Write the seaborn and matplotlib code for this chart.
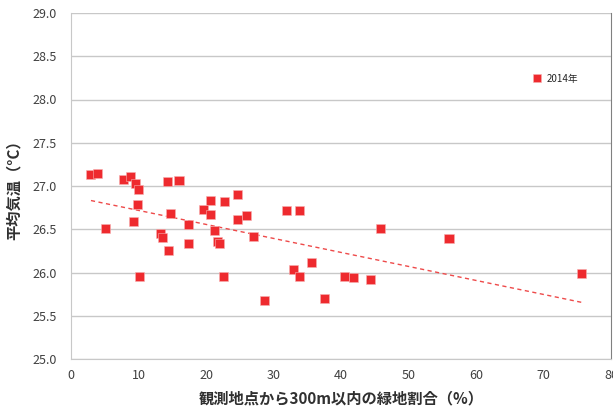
import matplotlib
matplotlib.use("Agg")
import matplotlib.pyplot as plt
import seaborn as sns
import pandas as pd

# Data: green space ratio within 300 m (%) vs mean temperature (deg C), 2014
green_ratio = [2.96, 3.9, 5.1, 7.8, 8.8, 9.5, 10.0, 9.9, 9.3, 10.1,
               14.3, 16.0, 14.8, 13.2, 13.5, 14.5, 17.4, 17.4, 19.7, 20.7,
               20.7, 21.2, 21.7, 22.0, 22.7, 22.6, 24.7, 24.7, 26.0, 27.0,
               28.7, 31.9, 32.9, 33.8, 33.8, 35.7, 37.5, 40.5, 41.9, 44.3,
               45.8, 56.0, 75.7]
mean_temp = [27.13, 27.14, 26.51, 27.08, 27.11, 27.03, 26.96, 26.79, 26.59, 25.95,
             27.05, 27.06, 26.68, 26.45, 26.41, 26.25, 26.55, 26.33, 26.73, 26.83,
             26.67, 26.49, 26.36, 26.34, 26.82, 25.95, 26.90, 26.61, 26.66, 26.42,
             25.68, 26.72, 26.03, 26.72, 25.95, 26.12, 25.70, 25.95, 25.94, 25.92,
             26.51, 26.39, 25.99]
series_label = "2014年"

x_ticks = [0, 10, 20, 30, 40, 50, 60, 70, 80]
y_ticks = [25.0, 25.5, 26.0, 26.5, 27.0, 27.5, 28.0, 28.5, 29.0]

df = pd.DataFrame({"green": green_ratio, "temp": mean_temp, "year": series_label})

sns.set_style("white")
plt.rcParams["font.family"] = ["Noto Sans CJK JP", "DejaVu Sans"]

red = "#EE2A2E"
fig = plt.figure(figsize=(6.13, 4.12), dpi=100)
ax = fig.add_axes([71 / 613, 1 - 359 / 412, 540 / 613, 346 / 412])

# Scatter points and linear trend line
sns.scatterplot(data=df, x="green", y="temp", hue="year", palette=[red], marker="s",
                s=42, edgecolor="#F7B0B0", linewidth=0.4, ax=ax, zorder=3)
sns.regplot(data=df, x="green", y="temp", scatter=False, ci=None, truncate=True, ax=ax,
            line_kws=dict(color="#EE4A4A", lw=1.0, ls=(0, (3, 2.5))))

# Axes formatting
ax.set_xlim(0, 80)
ax.set_ylim(25.0, 29.0)
ax.set_xticks(x_ticks)
ax.set_yticks(y_ticks)
ax.set_yticklabels([f"{v:.1f}" for v in y_ticks])
ax.yaxis.grid(True, color="#C8C8C8", lw=1.0)
ax.set_axisbelow(True)
for side in ["left", "bottom"]:
    ax.spines[side].set_color("#C8C8C8")
ax.spines["top"].set_visible(False)
ax.spines["right"].set_color("#808080")
ax.tick_params(axis="x", direction="in", length=4, color="#C8C8C8", labelsize=9,
               labelcolor="#404040", pad=7)
ax.tick_params(axis="y", length=0, labelsize=9, labelcolor="#404040", pad=10)

ax.set_xlabel("観測地点から300m以内の緑地割合（%）", fontsize=11, fontweight="bold",
              color="#303030", labelpad=6)
ax.set_ylabel("平均気温（°C）", fontsize=11, fontweight="bold", color="#303030", labelpad=8)

ax.legend(loc="center left", bbox_to_anchor=(0.838, 0.81), frameon=False, fontsize=7,
          handletextpad=0.0, markerscale=0.85, borderaxespad=0)

fig.savefig("out.png", dpi=100)
